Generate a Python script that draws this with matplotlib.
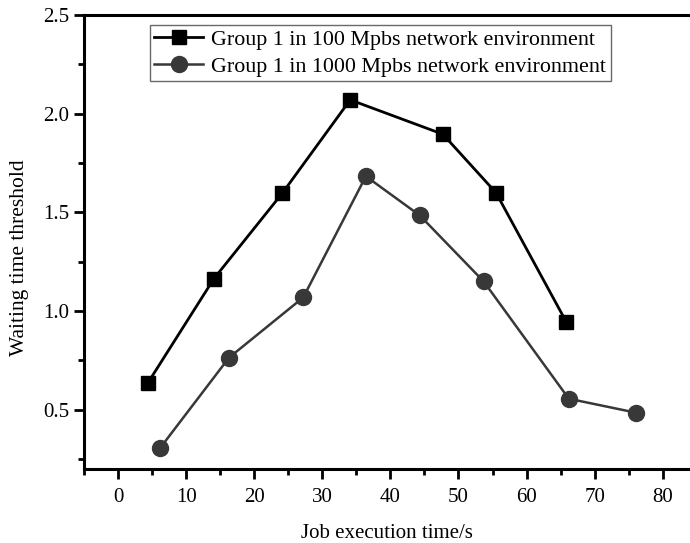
import numpy as np
import matplotlib
matplotlib.use("Agg")
import matplotlib.pyplot as plt
from matplotlib.ticker import MultipleLocator

plt.rcParams['font.family'] = ['Liberation Serif', 'DejaVu Serif']

# data
x_100 = [4.4, 14.1, 24.1, 34.1, 47.7, 55.5, 65.8]
y_100 = [0.637, 1.165, 1.596, 2.07, 1.896, 1.60, 0.947]
x_1000 = [6.2, 16.3, 27.2, 36.4, 44.3, 53.7, 66.2, 76.1]
y_1000 = [0.307, 0.764, 1.069, 1.683, 1.485, 1.15, 0.556, 0.485]
labels = ["Group 1 in 100 Mpbs network environment",
          "Group 1 in 1000 Mpbs network environment"]

fig = plt.figure(figsize=(6.9, 5.43), dpi=100)
ax = fig.add_axes([0.1217, 0.1363, 0.8783, 0.8361])

ax.plot(x_100, y_100, color='black', lw=2.0, marker='s', ms=10.5, label=labels[0])
ax.plot(x_1000, y_1000, color='#383838', lw=1.8, marker='o', ms=11.5, label=labels[1])

ax.set_xlim(-5, 84)
ax.set_ylim(0.2, 2.5)
ax.xaxis.set_major_locator(MultipleLocator(10))
ax.xaxis.set_minor_locator(MultipleLocator(5))
ax.yaxis.set_major_locator(MultipleLocator(0.5))
ax.yaxis.set_minor_locator(MultipleLocator(0.25))
ax.yaxis.set_major_formatter(matplotlib.ticker.FormatStrFormatter('%.1f'))

for s in ['left', 'bottom', 'top']:
    ax.spines[s].set_linewidth(2.2)
ax.spines['right'].set_visible(False)
ax.tick_params(which='major', direction='out', length=7, width=2, labelsize=15)
ax.tick_params(which='minor', direction='out', length=4, width=2)
ax.tick_params(axis='x', which='both', top=False, pad=7)

ax.set_xlabel('Job execution time/s', fontsize=15, labelpad=12)
ax.set_ylabel('Waiting time threshold', fontsize=15.5)
ax.yaxis.set_label_coords(-0.091, 0.465)

leg = ax.legend(loc='upper left', bbox_to_anchor=(0.109, 0.978), fontsize=15.8,
                frameon=True, fancybox=False, edgecolor='#444444',
                handlelength=2.2, borderpad=0.2, labelspacing=0.3,
                handletextpad=0.4, borderaxespad=0)
leg.get_frame().set_linewidth(1.0)

fig.savefig('out.png', dpi=100)
